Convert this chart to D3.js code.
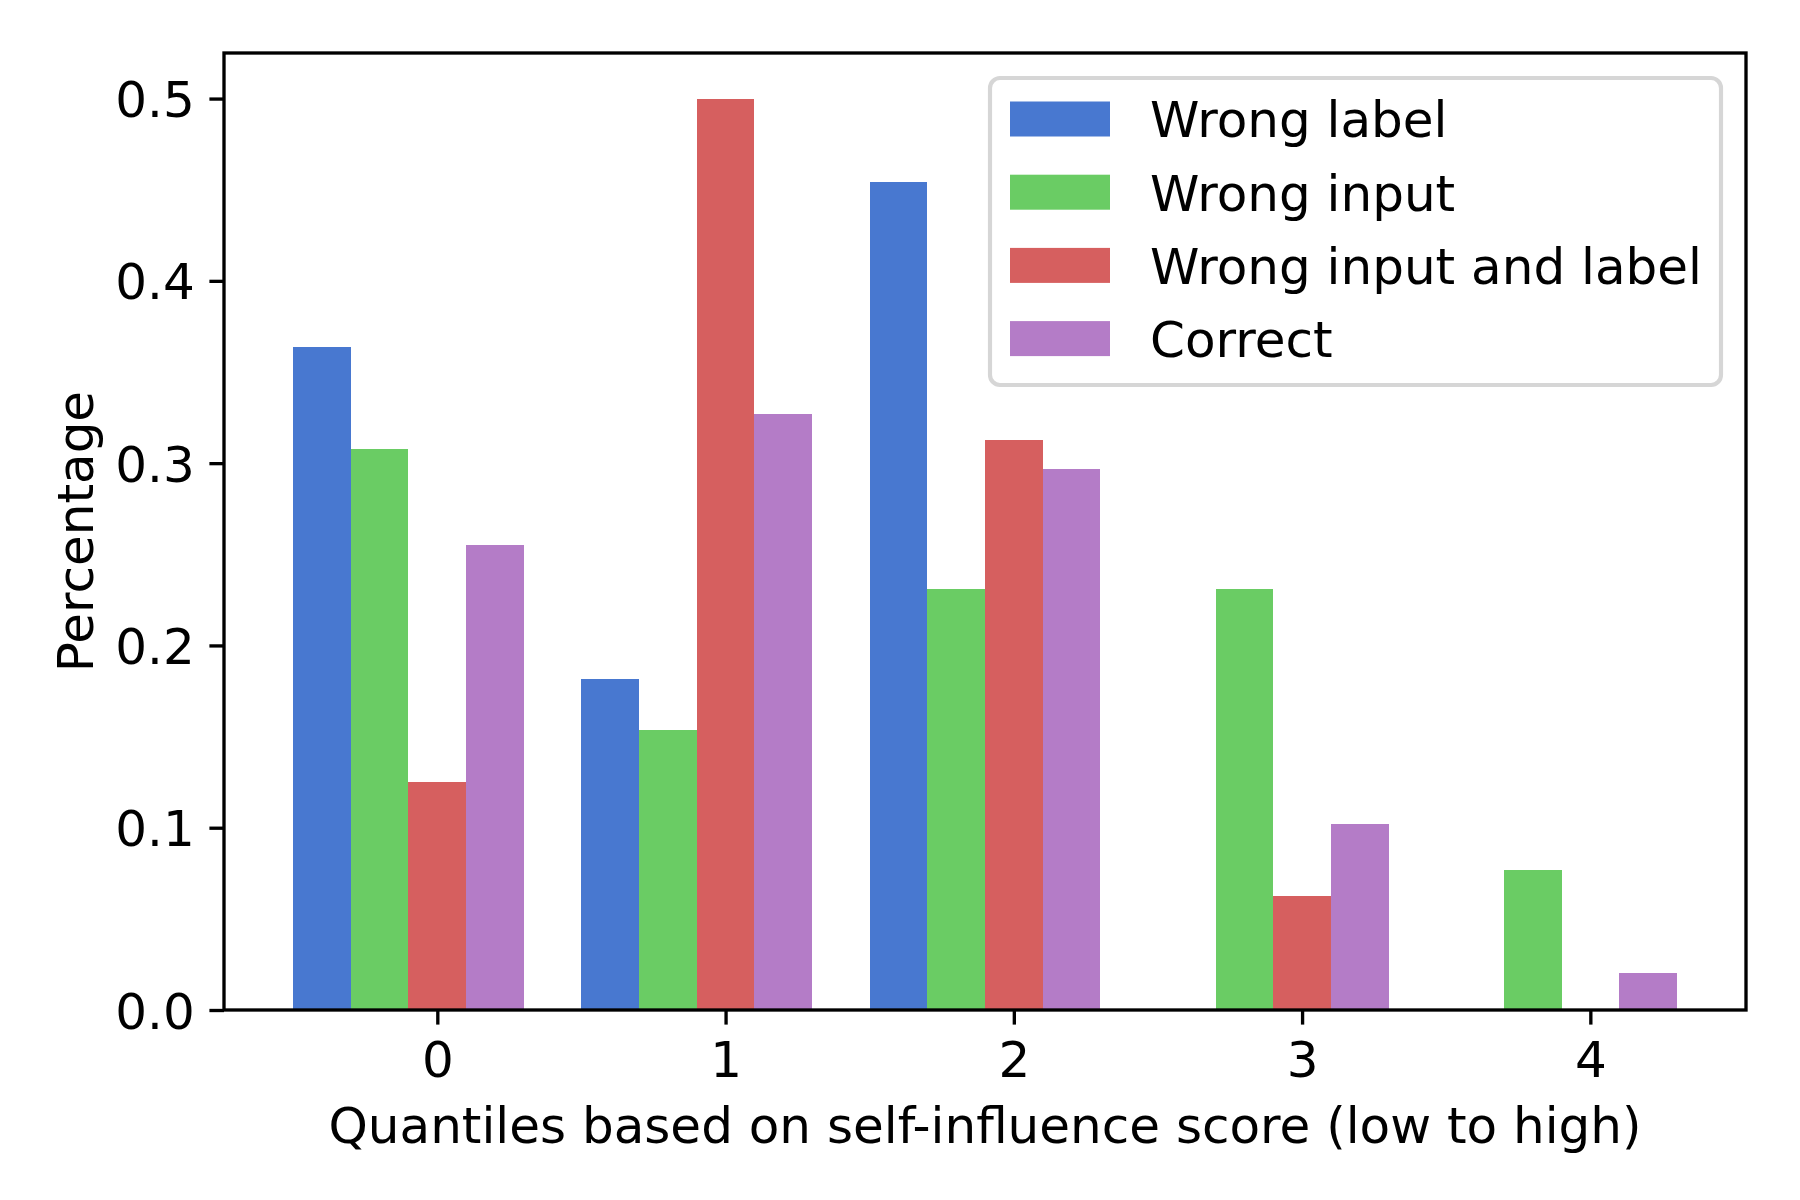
<!DOCTYPE html>
<html>
<head>
<meta charset="utf-8">
<script src="https://cdn.jsdelivr.net/npm/d3@7"></script>
<style>
  body { margin: 0; background: #fff; }
  svg { display: block; font-family: "DejaVu Sans", sans-serif; }
</style>
</head>
<body>
<div id="chart"></div>
<script>
// quantile buckets on the x axis
var quantiles = [0, 1, 2, 3, 4];

var seriesNames = ["Wrong label", "Wrong input", "Wrong input and label", "Correct"];
var seriesColors = ["#4878d0", "#6acc64", "#d65f5f", "#b47cc7"];

// fraction of each group falling in each quantile
var wrongLabel = [0.3636, 0.1818, 0.4545, 0, 0];
var wrongInput = [0.3077, 0.1538, 0.2308, 0.2308, 0.0769];
var wrongInputAndLabel = [0.125, 0.5, 0.3125, 0.0625, 0];
var correct = [0.255, 0.327, 0.297, 0.102, 0.0202];

var yTicks = [0, 0.1, 0.2, 0.3, 0.4, 0.5];

var seriesValues = [wrongLabel, wrongInput, wrongInputAndLabel, correct];

var width = 1800,
  height = 1200,
  margin = { top: 53, right: 54, bottom: 190, left: 224 };

var innerW = width - margin.left - margin.right,
  innerH = height - margin.top - margin.bottom;

var barW = 0.2;
var tickLen = 14.6, tickPad = 14.6, lw = 3.33;
var fontPx = 50;

var svg = d3.select("#chart").append("svg")
  .attr("width", width)
  .attr("height", height);

var g = svg.append("g")
  .attr("transform", "translate(" + margin.left + "," + margin.top + ")");

// matplotlib style margins: 5% padding on x, sticky zero on y
var x = d3.scaleLinear().domain([-0.74, 4.54]).range([0, innerW]);
var y = d3.scaleLinear().domain([0, 0.525]).range([innerH, 0]);

// bars centred at quantile + (i - 2) * width
seriesValues.forEach(function(vals, i) {
  g.append("g")
    .attr("shape-rendering", "crispEdges")
    .selectAll("rect")
    .data(vals)
    .enter()
    .append("rect")
    .attr("x", function(d, j) { return x(quantiles[j] + (i - 2) * barW - barW / 2); })
    .attr("width", x(barW) - x(0))
    .attr("y", function(d) { return y(d); })
    .attr("height", function(d) { return y(0) - y(d); })
    .attr("fill", seriesColors[i]);
});

// axes
var xAxis = d3.axisBottom(x)
  .tickValues(quantiles)
  .tickFormat(d3.format("d"))
  .tickSize(tickLen)
  .tickPadding(tickPad);

var yAxis = d3.axisLeft(y)
  .tickValues(yTicks)
  .tickFormat(d3.format(".1f"))
  .tickSize(tickLen)
  .tickPadding(tickPad);

var gx = g.append("g")
  .attr("transform", "translate(0," + innerH + ")")
  .call(xAxis);

var gy = g.append("g").call(yAxis);

[gx, gy].forEach(function(ax) {
  ax.select(".domain").remove();
  ax.selectAll(".tick line").attr("stroke", "#000").attr("stroke-width", lw);
  ax.selectAll(".tick text")
    .attr("fill", "#000")
    .style("font-size", fontPx + "px")
    .style("font-family", "DejaVu Sans");
});

gx.selectAll(".tick text").attr("dy", null).attr("y", tickLen + tickPad + 38);
gy.selectAll(".tick text").attr("dy", null).attr("y", 18);

// frame (all four spines)
g.append("rect")
  .attr("x", 0)
  .attr("y", 0)
  .attr("width", innerW)
  .attr("height", innerH)
  .attr("fill", "none")
  .attr("stroke", "#000")
  .attr("stroke-width", lw);

// axis labels
svg.append("text")
  .attr("x", margin.left + innerW / 2)
  .attr("y", 1143)
  .attr("text-anchor", "middle")
  .style("font-size", fontPx + "px")
  .text("Quantiles based on self-influence score (low to high)");

svg.append("text")
  .attr("transform", "translate(93," + (margin.top + innerH / 2) + ") rotate(-90)")
  .attr("text-anchor", "middle")
  .style("font-size", fontPx + "px")
  .text("Percentage");

// legend, upper right
var legX = 990, legY = 78, legW = 731, legH = 307, rowGap = 73.2;

var leg = svg.append("g");

leg.append("rect")
  .attr("x", legX)
  .attr("y", legY)
  .attr("width", legW)
  .attr("height", legH)
  .attr("rx", 10)
  .attr("fill", "#fff")
  .attr("fill-opacity", 0.8)
  .attr("stroke", "#d6d6d6")
  .attr("stroke-width", 4.17);

var rows = leg.selectAll(".row")
  .data(seriesNames)
  .enter()
  .append("g")
  .attr("transform", function(d, i) { return "translate(" + (legX + 20) + "," + (legY + 41 + i * rowGap) + ")"; });

rows.append("rect")
  .attr("x", 0)
  .attr("y", -17.5)
  .attr("width", 100)
  .attr("height", 35)
  .attr("fill", function(d, i) { return seriesColors[i]; });

rows.append("text")
  .attr("x", 140)
  .attr("y", 18.3)
  .style("font-size", fontPx + "px")
  .text(function(d) { return d; });
</script>
</body>
</html>
